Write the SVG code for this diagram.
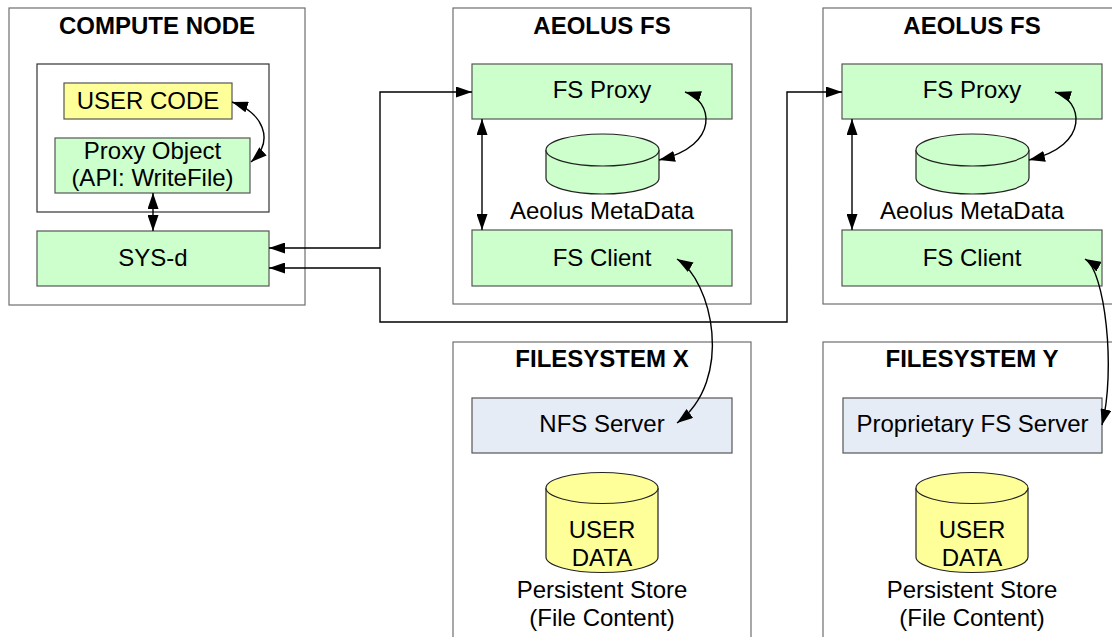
<svg xmlns="http://www.w3.org/2000/svg" width="1112" height="637" viewBox="0 0 1112 637">
<defs>
<style>
.outer{fill:#fff;stroke:#6e6e6e;stroke-width:1.2}
.inner{fill:#fff;stroke:#333;stroke-width:1.2}
.green{fill:#ccffcc;stroke:#555;stroke-width:1.2}
.yellow{fill:#ffff99;stroke:#555;stroke-width:1.2}
.blue{fill:#e6ecf6;stroke:#555;stroke-width:1.2}
.cylg{fill:#ccffcc;stroke:#222;stroke-width:1.2}
.cyly{fill:#ffff99;stroke:#222;stroke-width:1.2}
.title{font-family:"Liberation Sans",Arial,sans-serif;font-weight:bold;font-size:24px;fill:#000;text-anchor:middle}
.lbl{font-family:"Liberation Sans",Arial,sans-serif;font-size:24px;fill:#000;text-anchor:middle}
.conn{fill:none;stroke:#000;stroke-width:1.4;marker-start:url(#ah);marker-end:url(#ah)}
</style>
<marker id="ah" viewBox="0 0 16 11" refX="16" refY="5.5" markerWidth="16" markerHeight="11" markerUnits="userSpaceOnUse" orient="auto-start-reverse">
<path d="M0,0 L16,5.5 L0,11 z" fill="#000"/>
</marker>
</defs>

<g id="compute-node">
<rect class="outer" x="9" y="8" width="296" height="297"/>
<text class="title" x="157" y="34">COMPUTE NODE</text>
<rect class="inner" x="37" y="64" width="232" height="148"/>
</g>
<g id="user-code">
<rect class="yellow" x="64" y="83" width="168" height="36"/>
<text class="lbl" x="148" y="109">USER CODE</text>
</g>
<g id="proxy-object">
<rect class="green" x="55" y="138" width="195" height="55"/>
<text class="lbl" x="152.5" y="159">Proxy Object</text>
<text class="lbl" x="152.5" y="186">(API: WriteFile)</text>
</g>
<g id="sys-d">
<rect class="green" x="37" y="231" width="232" height="55"/>
<text class="lbl" x="153" y="266">SYS-d</text>
</g>

<g id="aeolus-fs-1">
<rect class="outer" x="453" y="8" width="298" height="296"/>
<text class="title" x="602" y="34">AEOLUS FS</text>
</g>
<g id="fs-proxy-1">
<rect class="green" x="472" y="64" width="260" height="55"/>
<text class="lbl" x="602" y="98">FS Proxy</text>
</g>
<g id="metadata-1">
<path class="cylg" d="M546,150 V178 A56.5,16 0 0 0 659,178 V150 A56.5,16 0 0 0 546,150 Z"/>
<path class="cylg" d="M546,150 A56.5,16 0 0 0 659,150" fill="none"/>
<text class="lbl" x="602" y="219">Aeolus MetaData</text>
</g>
<g id="fs-client-1">
<rect class="green" x="472" y="230" width="260" height="56"/>
<text class="lbl" x="602" y="266">FS Client</text>
</g>

<g id="aeolus-fs-2">
<rect class="outer" x="823" y="8" width="298" height="296"/>
<text class="title" x="972" y="34">AEOLUS FS</text>
</g>
<g id="fs-proxy-2">
<rect class="green" x="842" y="64" width="260" height="55"/>
<text class="lbl" x="972" y="98">FS Proxy</text>
</g>
<g id="metadata-2">
<path class="cylg" d="M916,150 V178 A56.5,16 0 0 0 1029,178 V150 A56.5,16 0 0 0 916,150 Z"/>
<path class="cylg" d="M916,150 A56.5,16 0 0 0 1029,150" fill="none"/>
<text class="lbl" x="972" y="219">Aeolus MetaData</text>
</g>
<g id="fs-client-2">
<rect class="green" x="842" y="230" width="260" height="56"/>
<text class="lbl" x="972" y="266">FS Client</text>
</g>

<g id="filesystem-x">
<rect class="outer" x="453" y="342" width="298" height="310"/>
<text class="title" x="602" y="367">FILESYSTEM X</text>
</g>
<g id="nfs-server">
<rect class="blue" x="472" y="398" width="260" height="55"/>
<text class="lbl" x="602" y="432">NFS Server</text>
</g>
<g id="user-data-x">
<path class="cyly" d="M546,488 V557 A56,15.5 0 0 0 658,557 V488 A56,15.5 0 0 0 546,488 Z"/>
<path class="cyly" d="M546,488 A56,15.5 0 0 0 658,488" fill="none"/>
<text class="lbl" x="602" y="538">USER</text>
<text class="lbl" x="602" y="566">DATA</text>
<text class="lbl" x="602" y="598">Persistent Store</text>
<text class="lbl" x="602" y="626">(File Content)</text>
</g>

<g id="filesystem-y">
<rect class="outer" x="823" y="342" width="298" height="310"/>
<text class="title" x="972" y="367">FILESYSTEM Y</text>
</g>
<g id="proprietary-fs-server">
<rect class="blue" x="843" y="398" width="259" height="55"/>
<text class="lbl" x="972.5" y="432">Proprietary FS Server</text>
</g>
<g id="user-data-y">
<path class="cyly" d="M916,488 V557 A56,15.5 0 0 0 1028,557 V488 A56,15.5 0 0 0 916,488 Z"/>
<path class="cyly" d="M916,488 A56,15.5 0 0 0 1028,488" fill="none"/>
<text class="lbl" x="972" y="538">USER</text>
<text class="lbl" x="972" y="566">DATA</text>
<text class="lbl" x="972" y="598">Persistent Store</text>
<text class="lbl" x="972" y="626">(File Content)</text>
</g>

<g id="connectors">
<path class="conn" d="M232,102 C262,112 276,140 251,162"/>
<path class="conn" d="M153,193 V231"/>
<path class="conn" d="M269,248 H380 V92 H472"/>
<path class="conn" d="M269,268 H380 V322 H787 V92 H842"/>
<path class="conn" d="M482,119 V230"/>
<path class="conn" d="M852,119 V230"/>
<path class="conn" d="M685,92 C712,100 722,145 659,160"/>
<path class="conn" d="M1055,92 C1082,100 1092,145 1029,160"/>
<path class="conn" d="M677,259 C712,280 735,380 677,423"/>
<path class="conn" d="M1085,259 C1105,270 1116,370 1102,425"/>
</g>
</svg>
